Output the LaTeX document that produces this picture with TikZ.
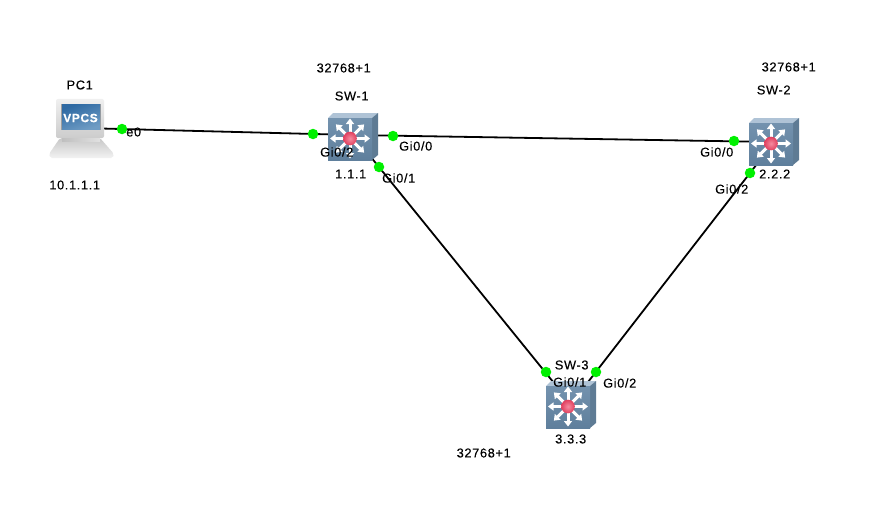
\documentclass[tikz,border=0pt]{standalone}
\usepackage{fontspec}
\setmainfont[LetterSpace=5,FakeBold=0.25]{Liberation Sans}
\usetikzlibrary{arrows.meta}
\definecolor{swfront}{HTML}{7392AE}
\definecolor{swfrontd}{HTML}{5F7F9C}
\definecolor{swtop}{HTML}{AFC3D6}
\definecolor{swside}{HTML}{5E7B94}
\definecolor{portgreen}{HTML}{00F000}
\definecolor{ballin}{HTML}{F58CA0}
\definecolor{ballout}{HTML}{E0405F}
\definecolor{scrA}{HTML}{2F6AA3}
\definecolor{scrB}{HTML}{6F9CC4}
\tikzset{
  x=1pt,y=-1pt,
  device/.style={minimum size=10pt,inner sep=0pt},
  wire/.style={draw=black,line width=1.8pt},
  port/.style={circle,fill=portgreen,minimum size=10.5pt,inner sep=0pt},
  lbl/.style={font=\fontsize{12.8}{14}\selectfont,inner sep=0pt,text=black,xshift=-0.3pt},
  ray/.style={draw=white,line width=3pt,-{Triangle[width=8pt,length=5.5pt]}},
  swicon/.pic={
    % origin = top left of the icon box, 50 x 47
    \fill[swtop] (0,5) -- (5,0) -- (50,0) -- (44,5) -- cycle;
    \fill[swside] (44,5) -- (50,0) -- (50,42) -- (44,47) -- cycle;
    \shade[top color=swfront,bottom color=swfrontd] (0,5) rectangle (44,47);
    \foreach \a in {0,45,...,315}
      \draw[ray] (22,25.5) -- ++(\a:20);
    \shade[inner color=ballin,outer color=ballout] (22,25.5) circle (6.8);
  }
}
\begin{document}
\begin{tikzpicture}
\useasboundingbox[fill=white] (0,0) rectangle (890,516);
% devices (anchors for the links)
\node[device] (pc)  at (82,128) {};
\node[device] (sw1) at (353,135) {};
\node[device] (sw2) at (774,142) {};
\node[device] (sw3) at (571,404) {};
% links
\draw[wire] (pc.center) -- (sw1.center);
\draw[wire] (sw1.center) -- (sw2.center);
\draw[wire] (sw1.center) -- (sw3.center);
\draw[wire] (sw2.center) -- (sw3.center);
% PC icon
\shade[top color=black!6,bottom color=black!20,rounded corners=2pt] (56,99) rectangle (104,138);
\shade[top color=black!22,bottom color=black!5,rounded corners=2pt] (60,138) -- (100,138) -- (114,154) -- (113,158) -- (50,158) -- (49,154) -- cycle;
\shade[left color=black!25,right color=black!12] (62,138) rectangle (100,141);
\fill[black!38] (61,104) rectangle (101,130);
\shade[left color=scrA,right color=scrB,shading angle=20] (62,105) rectangle (100,129);
\node[inner sep=0pt,text=white,font=\fontsize{12}{13}\bfseries\selectfont] (vpcs) at (80.5,118) {VPCS};
% switch icons
\pic at (328,113) {swicon};
\pic at (749,118) {swicon};
\pic at (546,381) {swicon};
% ports
\node[port] (p1) at (122,129) {};
\node[port] (p2) at (313,134) {};
\node[port] (p3) at (393,136) {};
\node[port] (p4) at (379,167) {};
\node[port] (p5) at (734,141) {};
\node[port] (p6) at (750,173) {};
\node[port] (p7) at (546,372) {};
\node[port] (p8) at (596,372) {};
% labels
\node[lbl] (t1) at (80,85) {PC1};
\node[lbl] (t2) at (75,185) {10.1.1.1};
\node[lbl] (t3) at (134,132) {e0};
\node[lbl] (t4) at (344,68) {32768+1};
\node[lbl] (t5) at (352,96) {SW-1};
\node[lbl] (t6) at (337,152) {Gi0/2};
\node[lbl] (t7) at (416,146) {Gi0/0};
\node[lbl] (t8) at (351,174) {1.1.1};
\node[lbl] (t9) at (399,178) {Gi0/1};
\node[lbl] (t10) at (789,67) {32768+1};
\node[lbl] (t11) at (774,90) {SW-2};
\node[lbl] (t12) at (717,152) {Gi0/0};
\node[lbl] (t13) at (732,189) {Gi0/2};
\node[lbl] (t14) at (775,174) {2.2.2};
\node[lbl] (t15) at (572,365) {SW-3};
\node[lbl] (t16) at (570,382) {Gi0/1};
\node[lbl] (t17) at (620,383) {Gi0/2};
\node[lbl] (t18) at (571,439) {3.3.3};
\node[lbl] (t19) at (484,453) {32768+1};
\end{tikzpicture}
\end{document}
